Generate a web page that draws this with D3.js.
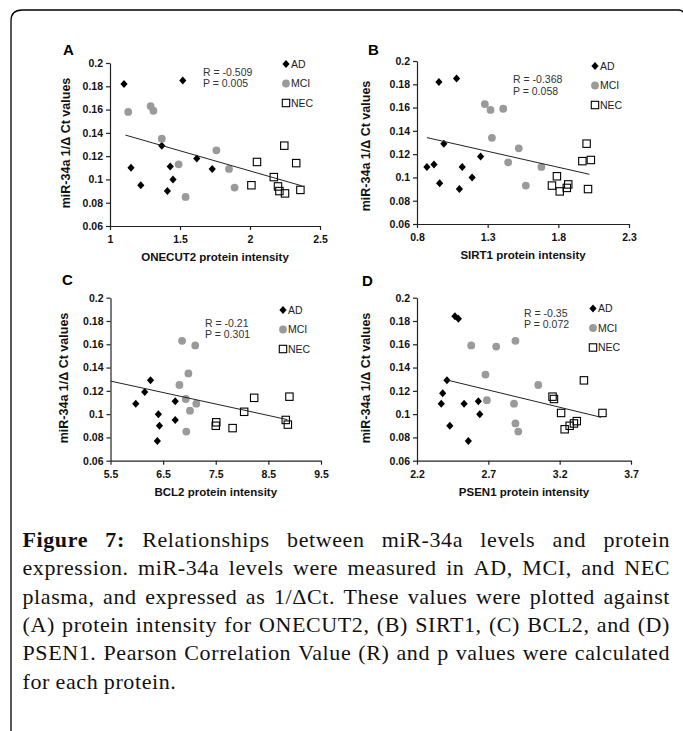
<!DOCTYPE html>
<html>
<head>
<meta charset="utf-8">
<title>miR-34a vs protein intensity</title>
<script src="https://d3js.org/d3.v7.min.js"></script>
<style>
  body { margin: 0; background: #fff; }
  svg { display: block; }
</style>
</head>
<body>
<svg width="683" height="731"></svg>
<script>
// points: [protein intensity, miR-34a 1/dCt]
const groups = ["AD", "MCI", "NEC"];
const yTicks = [0.06, 0.08, 0.1, 0.12, 0.14, 0.16, 0.18, 0.2];

const onecut2Ticks = [1, 1.5, 2, 2.5];
const onecut2AD = [[1.10, 0.182], [1.15, 0.110], [1.22, 0.095], [1.37, 0.129], [1.43, 0.111], [1.45, 0.100], [1.41, 0.090], [1.52, 0.185], [1.62, 0.118], [1.73, 0.109]];
const onecut2MCI = [[1.13, 0.158], [1.29, 0.163], [1.31, 0.159], [1.37, 0.135], [1.49, 0.113], [1.54, 0.085], [1.76, 0.125], [1.85, 0.109], [1.89, 0.093]];
const onecut2NEC = [[2.01, 0.095], [2.05, 0.115], [2.17, 0.102], [2.245, 0.129], [2.20, 0.094], [2.21, 0.090], [2.25, 0.088], [2.33, 0.114], [2.36, 0.091]];
const onecut2Trend = [[1.11, 0.1381], [2.37, 0.0945]];

const sirt1Ticks = [0.8, 1.3, 1.8, 2.3];
const sirt1AD = [[0.87, 0.109], [0.92, 0.111], [0.955, 0.182], [0.99, 0.129], [0.96, 0.095], [1.08, 0.185], [1.12, 0.109], [1.10, 0.090], [1.19, 0.100], [1.25, 0.118]];
const sirt1MCI = [[1.28, 0.163], [1.32, 0.158], [1.41, 0.159], [1.33, 0.134], [1.52, 0.125], [1.445, 0.113], [1.68, 0.109], [1.57, 0.093]];
const sirt1NEC = [[1.79, 0.101], [1.755, 0.093], [1.81, 0.088], [1.86, 0.091], [1.87, 0.094], [1.97, 0.114], [2.00, 0.129], [2.03, 0.115], [2.01, 0.090]];
const sirt1Trend = [[0.87, 0.1342], [2.02, 0.1027]];

const bcl2Ticks = [5.5, 6.5, 7.5, 8.5, 9.5];
const bcl2AD = [[5.98, 0.109], [6.15, 0.119], [6.26, 0.129], [6.41, 0.100], [6.43, 0.090], [6.39, 0.077], [6.73, 0.111], [6.73, 0.095]];
const bcl2MCI = [[6.86, 0.163], [7.11, 0.159], [6.98, 0.135], [6.81, 0.125], [6.93, 0.113], [7.13, 0.109], [7.01, 0.103], [6.94, 0.085]];
const bcl2NEC = [[7.51, 0.093], [7.50, 0.090], [7.82, 0.088], [8.04, 0.102], [8.23, 0.114], [8.90, 0.115], [8.83, 0.095], [8.87, 0.091]];
const bcl2Trend = [[5.5, 0.1284], [8.86, 0.0953]];

const psen1Ticks = [2.2, 2.7, 3.2, 3.7];
const psen1AD = [[2.466, 0.184], [2.49, 0.182], [2.41, 0.129], [2.38, 0.118], [2.37, 0.109], [2.53, 0.109], [2.63, 0.111], [2.64, 0.100], [2.43, 0.090], [2.56, 0.077]];
const psen1MCI = [[2.58, 0.159], [2.755, 0.158], [2.89, 0.163], [2.68, 0.134], [2.69, 0.112], [3.05, 0.125], [2.88, 0.109], [2.89, 0.092], [2.91, 0.085]];
const psen1NEC = [[3.37, 0.129], [3.15, 0.115], [3.16, 0.113], [3.21, 0.101], [3.50, 0.101], [3.235, 0.087], [3.27, 0.090], [3.30, 0.092], [3.32, 0.094]];
const psen1Trend = [[2.39, 0.1299], [3.49, 0.0973]];

const panelKeys = ["A", "B", "C", "D"];
const proteins = ["ONECUT2", "SIRT1", "BCL2", "PSEN1"];
const statR = ["-0.509", "-0.368", "-0.21", "-0.35"];
const statP = ["0.005", "0.058", "0.301", "0.072"];

const captionLines = [
  "Figure 7: Relationships between miR-34a levels and protein",
  "expression. miR-34a levels were measured in AD, MCI, and NEC",
  "plasma, and expressed as 1/\u0394Ct. These values were plotted against",
  "(A) protein intensity for ONECUT2, (B) SIRT1, (C) BCL2, and (D)",
  "PSEN1. Pearson Correlation Value (R) and p values were calculated",
  "for each protein."
];

const sans = "'Liberation Sans', Arial, sans-serif";
const svg = d3.select("svg");

svg.append("rect").attr("width", 683).attr("height", 731).attr("fill", "#fff");
// box around the figure
svg.append("path")
  .attr("d", "M11,731V21Q11,10 22,10H679Q682,10 684,13")
  .attr("fill", "none").attr("stroke", "#000").attr("stroke-width", 1.3);

// where each panel sits on the page
const layout = [
  { left: 110, right: 320, top: 63, bottom: 226, lab: [63, 55], yt: 66, yc: 143, leg: [286, 64], stat: [203, 72] },
  { left: 417, right: 629, top: 61, bottom: 224, lab: [368, 55], yt: 366, yc: 146, leg: [595, 66], stat: [513, 79.5] },
  { left: 110.5, right: 321, top: 297.7, bottom: 460.7, lab: [62, 285], yt: 64, yc: 378, leg: [283, 310], stat: [205, 323] },
  { left: 417, right: 631, top: 297.7, bottom: 460.7, lab: [362, 286], yt: 366, yc: 378, leg: [593, 308.5], stat: [524, 313] }
];
const series = [
  [onecut2AD, onecut2MCI, onecut2NEC],
  [sirt1AD, sirt1MCI, sirt1NEC],
  [bcl2AD, bcl2MCI, bcl2NEC],
  [psen1AD, psen1MCI, psen1NEC]
];
const trends = [onecut2Trend, sirt1Trend, bcl2Trend, psen1Trend];
const xTickSets = [onecut2Ticks, sirt1Ticks, bcl2Ticks, psen1Ticks];

function marker(sel, group) {
  if (group === "AD") {
    sel.append("path").attr("d", "M0,-4L3.6,0L0,4L-3.6,0Z").attr("fill", "#000");
  } else if (group === "MCI") {
    sel.append("circle").attr("r", 3.9).attr("fill", "#9a9a9a");
  } else {
    sel.append("rect").attr("x", -3.7).attr("y", -3.7).attr("width", 7.4).attr("height", 7.4)
      .attr("fill", "none").attr("stroke", "#000").attr("stroke-width", 1.1);
  }
}

panelKeys.forEach((key, i) => {
  const L = layout[i];
  const ticks = xTickSets[i];
  const x = d3.scaleLinear().domain([ticks[0], ticks[ticks.length - 1]]).range([L.left, L.right]);
  const y = d3.scaleLinear().domain([0.06, 0.2]).range([L.bottom, L.top]);
  const g = svg.append("g");

  // points
  series[i].forEach((pts, gi) => {
    g.append("g").selectAll("g").data(pts).join("g")
      .attr("transform", d => `translate(${x(d[0])},${y(d[1])})`)
      .each(function () { marker(d3.select(this), groups[gi]); });
  });

  // linear trend line as drawn in the figure
  g.append("path").datum(trends[i])
    .attr("d", d3.line().x(d => x(d[0])).y(d => y(d[1])))
    .attr("fill", "none").attr("stroke", "#222").attr("stroke-width", 1);

  // axes
  const ya = g.append("g").attr("transform", `translate(${L.left},0)`)
    .call(d3.axisLeft(y).tickValues(yTicks).tickSize(4).tickSizeOuter(0).tickPadding(3).tickFormat(d => String(+d.toFixed(2))));
  const xa = g.append("g").attr("transform", `translate(0,${L.bottom})`)
    .call(d3.axisBottom(x).tickValues(ticks).tickSize(4).tickSizeOuter(0).tickPadding(6).tickFormat(d => String(d)));
  [ya, xa].forEach(a => {
    a.selectAll("path, line").attr("stroke", "#222").attr("stroke-width", 1.2);
    a.selectAll("text").attr("font-family", sans).attr("font-weight", "bold")
      .attr("font-size", "10.5px").attr("fill", "#111");
  });

  // titles
  g.append("text").attr("x", L.lab[0]).attr("y", L.lab[1])
    .attr("font-family", sans).attr("font-weight", "bold").attr("font-size", "15px").text(key);
  g.append("text").attr("transform", `translate(${L.yt},${L.yc}) rotate(-90)`)
    .attr("text-anchor", "middle").attr("dy", "0.35em")
    .attr("font-family", sans).attr("font-weight", "bold").attr("font-size", "12.5px").attr("fill", "#111")
    .text("miR-34a 1/\u0394 Ct values");
  g.append("text").attr("x", (L.left + L.right) / 2).attr("y", L.bottom + 35)
    .attr("text-anchor", "middle")
    .attr("font-family", sans).attr("font-weight", "bold").attr("font-size", "11.5px").attr("fill", "#111")
    .text(proteins[i] + " protein intensity");

  // R and P
  [`R = ${statR[i]}`, `P = ${statP[i]}`].forEach((t, k) => {
    g.append("text").attr("x", L.stat[0]).attr("y", L.stat[1] + k * 11.7).attr("dy", "0.35em")
      .attr("font-family", sans).attr("font-size", "10.5px").attr("fill", "#333").text(t);
  });

  // legend
  groups.forEach((name, k) => {
    const row = g.append("g").attr("transform", `translate(${L.leg[0]},${L.leg[1] + k * 19.5})`);
    marker(row, name);
    row.append("text").attr("x", 5).attr("dy", "0.35em")
      .attr("font-family", sans).attr("font-size", "10.5px").attr("fill", "#222").text(name);
  });
});

// caption, justified line by line
const cap = svg.append("g").attr("font-family", "'Liberation Serif', 'Times New Roman', serif")
  .attr("font-size", "22px").attr("letter-spacing", "0.6px").attr("fill", "#111");
const capLeft = 22.5, capRight = 670, capTop = 547, lineH = 28.3;
captionLines.forEach((line, li) => {
  const words = line.split(" ");
  const nodes = words.map((w, wi) => {
    const t = cap.append("text").attr("y", capTop + li * lineH).text(w);
    if (li === 0 && wi < 2) t.attr("font-weight", "bold");
    return t;
  });
  const widths = nodes.map(t => t.node().getComputedTextLength());
  const last = li === captionLines.length - 1;
  const gap = last ? 5.6 : (capRight - capLeft - d3.sum(widths)) / (words.length - 1);
  let cx = capLeft;
  nodes.forEach((t, k) => { t.attr("x", cx); cx += widths[k] + gap; });
});
</script>
</body>
</html>
